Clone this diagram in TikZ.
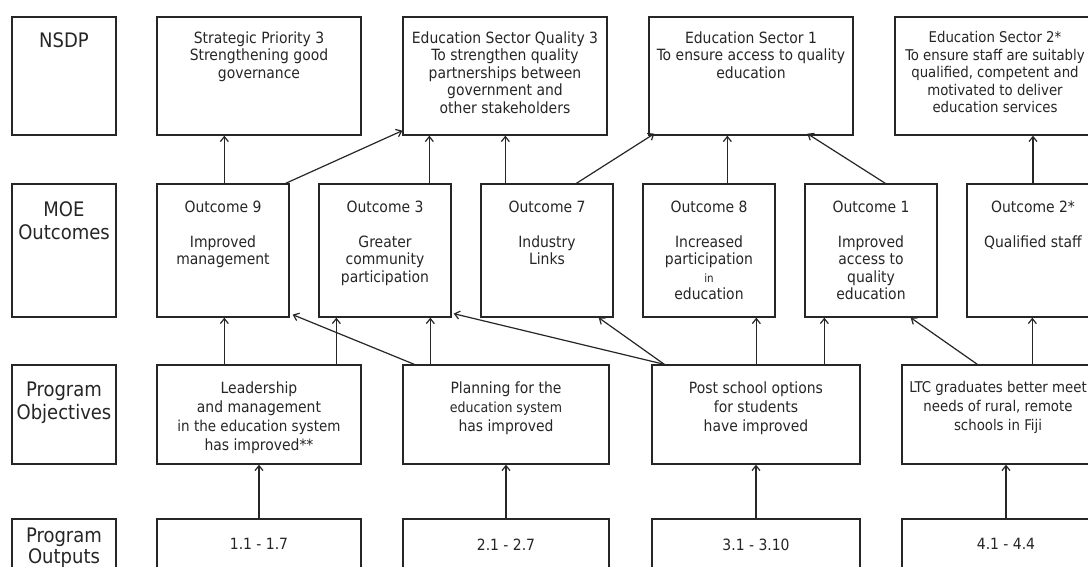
\documentclass[tikz,border=0pt]{standalone}
\usepackage{fontspec}
\setmainfont{DejaVu Sans Condensed}
\usetikzlibrary{arrows.meta,calc}
\definecolor{ink}{gray}{0.15}
\begin{document}
\begin{tikzpicture}[x=1pt,y=-1pt,
  boxst/.style={draw=ink, line width=1.3pt, inner sep=0pt, rectangle},
  txt/.style={anchor=north, inner sep=0pt, align=center, text=ink, font=\fontsize{15.5}{17.5}\selectfont},
  txtb/.style={anchor=north, inner sep=0pt, align=center, text=ink, font=\fontsize{15.5}{19}\selectfont},
  lab/.style={anchor=north, inner sep=0pt, align=center, text=ink, font=\fontsize{20}{23}\selectfont},
  arr/.style={draw=ink, line width=1.2pt, -{Straight Barb[length=5pt,width=8pt]}}]
\useasboundingbox (0,0) rectangle (1088,566);
\clip (0,0) rectangle (1088,566);
\fill[white] (0,0) rectangle (1088,566);

% ---------- row 1: NSDP ----------
\node[boxst, minimum width=104pt, minimum height=118pt] (lab1) at (64,76) {};
\node[boxst, minimum width=204pt, minimum height=118pt] (sp3) at (259,76) {};
\node[boxst, minimum width=204pt, minimum height=118pt] (esq3) at (505,76) {};
\node[boxst, minimum width=204pt, minimum height=118pt] (es1) at (751,76) {};
\node[boxst, minimum width=204pt, minimum height=118pt] (es2) at (997,76) {};
\node[lab] (lab1t) at ($(lab1.north)+(0,16)$) {NSDP};
\node[txt] (sp3t) at ($(sp3.north)+(0,15)$) {Strategic Priority 3\\Strengthening good\\governance};
\node[txt] (esq3t) at ($(esq3.north)+(0,15)$) {Education Sector Quality 3\\To strengthen quality\\partnerships between\\government and\\other stakeholders};
\node[txt] (es1t) at ($(es1.north)+(0,15)$) {Education Sector 1\\To ensure access to quality\\education};
\node[txt, font=\fontsize{14.8}{17.5}\selectfont] (es2t) at ($(es2.north)+(-2,15)$) {Education Sector 2*\\To ensure staff are suitably\\qualified, competent and\\motivated to deliver\\education services};

% ---------- row 2: MOE outcomes ----------
\node[boxst, minimum width=104pt, minimum height=133pt] (lab2) at (64,250.5) {};
\node[boxst, minimum width=132pt, minimum height=133pt] (o9) at (223,250.5) {};
\node[boxst, minimum width=132pt, minimum height=133pt] (o3) at (385,250.5) {};
\node[boxst, minimum width=132pt, minimum height=133pt] (o7) at (547,250.5) {};
\node[boxst, minimum width=132pt, minimum height=133pt] (o8) at (709,250.5) {};
\node[boxst, minimum width=132pt, minimum height=133pt] (o1) at (871,250.5) {};
\node[boxst, minimum width=132pt, minimum height=133pt] (o2) at (1033,250.5) {};
\node[lab] (lab2t) at ($(lab2.north)+(0,18)$) {MOE\\Outcomes};
\node[txt] (o9t) at ($(o9.north)+(0,17)$) {Outcome 9\\[17.5pt]Improved\\management};
\node[txt] (o3t) at ($(o3.north)+(0,17)$) {Outcome 3\\[17.5pt]Greater\\community\\participation};
\node[txt] (o7t) at ($(o7.north)+(0,17)$) {Outcome 7\\[17.5pt]Industry\\Links};
\node[txt] (o8t) at ($(o8.north)+(0,17)$) {Outcome 8\\[17.5pt]Increased\\participation\\{\fontsize{11.5}{17.5}\selectfont in}\\education};
\node[txt] (o1t) at ($(o1.north)+(0,17)$) {Outcome 1\\[17.5pt]Improved\\access to\\quality\\education};
\node[txt] (o2t) at ($(o2.north)+(0,17)$) {Outcome 2*\\[17.5pt]Qualified staff};

% ---------- row 3: program objectives ----------
\node[boxst, minimum width=104pt, minimum height=99pt] (lab3) at (64,414.5) {};
\node[boxst, minimum width=204pt, minimum height=99pt] (lo) at (259,414.5) {};
\node[boxst, minimum width=206pt, minimum height=99pt] (pl) at (506,414.5) {};
\node[boxst, minimum width=208pt, minimum height=99pt] (ps) at (756,414.5) {};
\node[boxst, minimum width=208pt, minimum height=99pt] (ltc) at (1006,414.5) {};
\node[lab] (lab3t) at ($(lab3.north)+(0,17)$) {Program\\Objectives};
\node[txtb] (lot) at ($(lo.north)+(0,17)$) {Leadership\\and management\\{\fontsize{15}{19}\selectfont in the education system}\\has improved**};
\node[txtb] (plt) at ($(pl.north)+(0,17)$) {Planning for the\\{\fontsize{14}{19}\selectfont education system}\\has improved};
\node[txtb] (pst) at ($(ps.north)+(0,17)$) {Post school options\\for students\\have improved};
\node[txtb, font=\fontsize{14.8}{19}\selectfont] (ltct) at ($(ltc.north)+(-8,17)$) {LTC graduates better meet\\needs of rural, remote\\schools in Fiji};

% ---------- row 4: program outputs ----------
\node[boxst, minimum width=104pt, minimum height=80pt] (lab4) at (64,559) {};
\node[boxst, minimum width=204pt, minimum height=80pt] (p1) at (259,559) {};
\node[boxst, minimum width=206pt, minimum height=80pt] (p2) at (506,559) {};
\node[boxst, minimum width=208pt, minimum height=80pt] (p3) at (756,559) {};
\node[boxst, minimum width=208pt, minimum height=80pt] (p4) at (1006,559) {};
\node[lab, font=\fontsize{20}{21}\selectfont] (lab4t) at ($(lab4.north)+(0,9)$) {Program\\Outputs};
\node[txt] (p1t) at ($(p1.north)+(0,20)$) {1.1 - 1.7};
\node[txt] (p2t) at ($(p2.north)+(0,20)$) {2.1 - 2.7};
\node[txt] (p3t) at ($(p3.north)+(0,20)$) {3.1 - 3.10};
\node[txt] (p4t) at ($(p4.north)+(0,20)$) {4.1 - 4.4};

% ---------- connector end points ----------
\coordinate (a1) at ($(o9.north west)+(68,0)$);
\coordinate (a2) at ($(o9.north east)+(-4,0)$);
\coordinate (a2e) at ($(esq3.south west)+(0,-5)$);
\coordinate (a3) at ($(o3.north west)+(111,0)$);
\coordinate (a4) at ($(o7.north west)+(25,0)$);
\coordinate (a5) at ($(o7.north west)+(96,0)$);
\coordinate (a5e) at ($(es1.south west)+(6,-2)$);
\coordinate (a6) at ($(o8.north west)+(85,0)$);
\coordinate (a7) at ($(o1.north west)+(81,0)$);
\coordinate (a7e) at ($(es1.south west)+(159,-2)$);

\coordinate (b1) at ($(lo.north west)+(68,0)$);
\coordinate (b2) at ($(lo.north west)+(180,0)$);
\coordinate (b3) at ($(pl.north west)+(12,0)$);
\coordinate (b3e) at ($(o9.south east)+(3,-3)$);
\coordinate (b4) at ($(pl.north west)+(28,0)$);
\coordinate (b5) at ($(ps.north west)+(13,0)$);
\coordinate (b5e) at ($(o3.south east)+(2,-4)$);
\coordinate (b6e) at ($(o7.south east)+(-15,0)$);
\coordinate (b7) at ($(ps.north west)+(105,0)$);
\coordinate (b8) at ($(ps.north west)+(173,0)$);
\coordinate (b9) at ($(ltc.north west)+(76,0)$);
\coordinate (b9e) at ($(o1.south east)+(-27,0)$);
\coordinate (b10) at ($(ltc.north west)+(131,0)$);

% ---------- connectors: outcomes -> NSDP ----------
\draw[arr] (a1) -- (a1 |- sp3.south);
\draw[arr] (a2) -- (a2e);
\draw[arr] (a3) -- (a3 |- esq3.south);
\draw[arr] (a4) -- (a4 |- esq3.south);
\draw[arr] (a5) -- (a5e);
\draw[arr] (a6) -- (a6 |- es1.south);
\draw[arr] (a7) -- (a7e);
\draw[arr] (o2.north) -- (o2.north |- es2.south);

% ---------- connectors: objectives -> outcomes ----------
\draw[arr] (b1) -- (b1 |- o9.south);
\draw[arr] (b2) -- (b2 |- o3.south);
\draw[arr] (b3) -- (b3e);
\draw[arr] (b4) -- (b4 |- o3.south);
\draw[arr] (b5) -- (b5e);
\draw[arr] (b5) -- (b6e);
\draw[arr] (b7) -- (b7 |- o8.south);
\draw[arr] (b8) -- (b8 |- o1.south);
\draw[arr] (b9) -- (b9e);
\draw[arr] (b10) -- (b10 |- o2.south);

% ---------- connectors: outputs -> objectives ----------
\draw[arr] (p1.north) -- (lo.south);
\draw[arr] (p2.north) -- (pl.south);
\draw[arr] (p3.north) -- (ps.south);
\draw[arr] (p4.north) -- (ltc.south);
\end{tikzpicture}
\end{document}
